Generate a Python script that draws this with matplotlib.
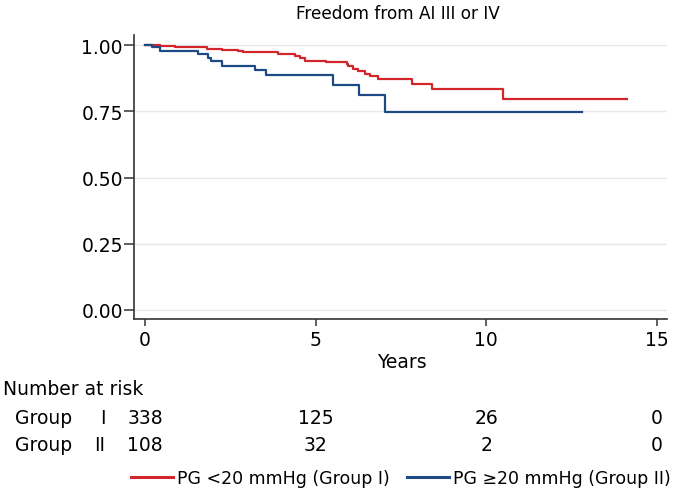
import numpy as np
import matplotlib.pyplot as plt
from matplotlib import transforms

# Kaplan-Meier steps (years, survival)
red_t = [0, 0.44, 0.88, 1.81, 2.25, 2.73, 2.88, 3.91, 4.39, 4.54, 4.69, 5.32,
         5.91, 5.96, 6.10, 6.25, 6.44, 6.59, 6.84, 7.84, 8.40, 10.5, 14.14]
red_s = [1.0, 0.996, 0.991, 0.986, 0.982, 0.977, 0.972, 0.967, 0.958, 0.951, 0.94, 0.936,
         0.929, 0.92, 0.908, 0.901, 0.892, 0.883, 0.871, 0.854, 0.835, 0.797, 0.797]
blue_t = [0, 0.2, 0.44, 1.56, 1.85, 1.95, 2.25, 3.22, 3.55, 5.52, 6.28, 7.03, 12.82]
blue_s = [1.0, 0.992, 0.977, 0.967, 0.952, 0.94, 0.922, 0.905, 0.886, 0.85, 0.81, 0.747, 0.747]

labels = ['PG <20 mmHg (Group I)', 'PG \u226520 mmHg (Group II)']
risk_times = [0, 5, 10, 15]
risk_g1 = [338, 125, 26, 0]
risk_g2 = [108, 32, 2, 0]
yticks = [0, 0.25, 0.5, 0.75, 1.0]
xticks = [0, 5, 10, 15]

red = '#d3262c'
blue = '#1d4a85'
W, H = 674, 502
fs = 13.5

def fx(px):
    return px / W

def fy(py):
    return 1 - py / H

fig = plt.figure(figsize=(W / 100, H / 100), dpi=100)
ax = fig.add_axes([fx(134), fy(320), fx(667) - fx(134), fy(36) - fy(320)])

ax.step(red_t, red_s, where='post', color=red, lw=1.6, label=labels[0], zorder=3)
ax.step(blue_t, blue_s, where='post', color=blue, lw=1.6, label=labels[1], zorder=3)

ax.set_xlim(-0.32, 15.3)
ax.set_ylim(-0.034, 1.038)
ax.set_yticks(yticks)
ax.set_yticklabels(['%.2f' % v for v in yticks])
ax.set_xticks(xticks)
ax.grid(axis='y', color='#e8e8e8', lw=1)
ax.set_axisbelow(True)
for s in ['top', 'right']:
    ax.spines[s].set_visible(False)
for s in ['left', 'bottom']:
    ax.spines[s].set_color('#333333')
    ax.spines[s].set_linewidth(1.2)
ax.tick_params(axis='y', length=7, width=1.1, color='#333333', labelsize=fs, pad=1)
ax.tick_params(axis='x', length=5, width=1.1, color='#333333', labelsize=fs, pad=3)

fig.text(fx(398), fy(14), 'Freedom from AI III or IV', ha='center', va='center', fontsize=12.2)
fig.text(fx(402), fy(363), 'Years', ha='center', va='center', fontsize=fs)

# number at risk table
tr = transforms.blended_transform_factory(ax.transData, fig.transFigure)
fig.text(fx(3), fy(390), 'Number at risk', ha='left', va='center', fontsize=fs)
fig.text(fx(15), fy(418), 'Group', ha='left', va='center', fontsize=fs)
fig.text(fx(103), fy(418), 'I', ha='center', va='center', fontsize=fs)
fig.text(fx(15), fy(446), 'Group', ha='left', va='center', fontsize=fs)
fig.text(fx(100), fy(446), 'II', ha='center', va='center', fontsize=fs)
for t, a, b in zip(risk_times, risk_g1, risk_g2):
    ax.text(t, fy(418), str(a), transform=tr, ha='center', va='center', fontsize=fs)
    ax.text(t, fy(446), str(b), transform=tr, ha='center', va='center', fontsize=fs)

leg = fig.legend(loc='center right', bbox_to_anchor=(fx(671), fy(479)), ncol=2, frameon=False,
                 fontsize=12.5, handlelength=2.4, handletextpad=0.25, columnspacing=1.0,
                 borderpad=0, borderaxespad=0)
for h in leg.get_lines():
    h.set_linewidth(2.2)

fig.savefig('out.png', dpi=100)
